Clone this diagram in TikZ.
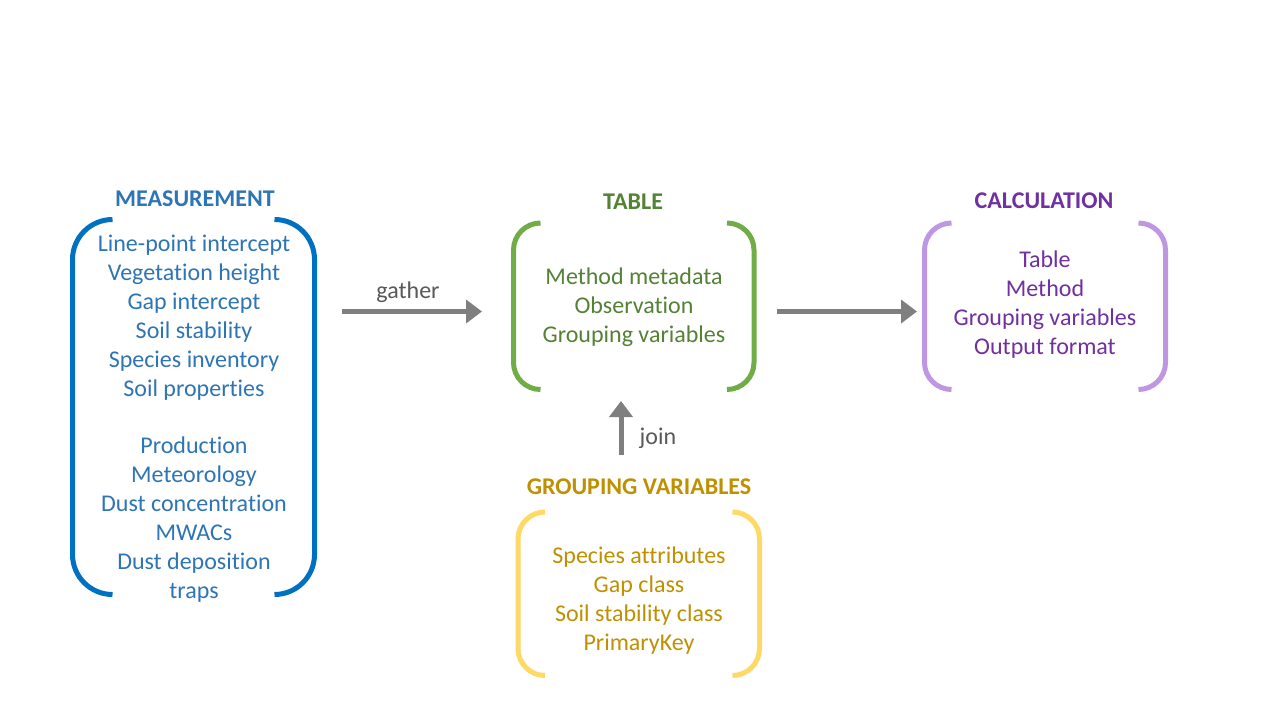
\documentclass[tikz,border=0pt]{standalone}
\usepackage{fontspec}
\setmainfont[Ligatures=NoCommon]{Carlito}
\usetikzlibrary{arrows.meta}
\definecolor{mbr}{HTML}{0070C0}
\definecolor{mtx}{HTML}{2E75B6}
\definecolor{tbr}{HTML}{70AD47}
\definecolor{ttx}{HTML}{548235}
\definecolor{cbr}{HTML}{BF96E2}
\definecolor{ctx}{HTML}{7030A0}
\definecolor{gbr}{HTML}{FFD966}
\definecolor{gtx}{HTML}{BF9000}
\definecolor{arr}{HTML}{7F7F7F}
\definecolor{lbl}{HTML}{595959}
\newcommand\dbracket[6]{%
  \draw[brk,#6,rounded corners=#5pt] (#1+#5,#2) -- (#1,#2) -- (#1,#4) -- (#1+#5,#4);
  \draw[brk,#6,rounded corners=#5pt] (#3-#5,#2) -- (#3,#2) -- (#3,#4) -- (#3-#5,#4);}
\begin{document}
\begin{tikzpicture}[x=1pt,y=-1pt,
  txt/.style={anchor=base,inner sep=0pt,font=\fontsize{24}{29}\selectfont},
  head/.style={anchor=base,inner sep=0pt,font=\fontsize{24}{29}\selectfont\bfseries},
  brk/.style={line width=5pt},
  arrowline/.style={draw=arr,line width=5pt,-{Triangle[length=16pt,width=23pt]}}]
\useasboundingbox[fill=white] (0,0) rectangle (1280,720);

% brackets
\dbracket{72.5}{219.5}{314.5}{594.5}{40}{mbr}
\dbracket{513.5}{223}{754}{389.5}{27}{tbr}
\dbracket{924.5}{223}{1165.5}{389.5}{27}{cbr}
\dbracket{518}{512}{759.5}{675.5}{27}{gbr}

% MEASUREMENT
\node[head,text=mtx] (mh) at (195,206) {MEASUREMENT};
\foreach \t [count=\i from 0] in {Line-point intercept,Vegetation height,Gap intercept,Soil stability,Species inventory,Soil properties}
  \node[txt,text=mtx] (ma\i) at (194,251+29*\i) {\t};
\foreach \t [count=\i from 0] in {Production,Meteorology,Dust concentration,MWACs,Dust deposition,traps}
  \node[txt,text=mtx] (mb\i) at (194,453.5+29*\i) {\t};

% TABLE
\node[head,text=ttx] (th) at (633,209) {TABLE};
\foreach \t [count=\i from 0] in {Method metadata,Observation,Grouping variables}
  \node[txt,text=ttx] (t\i) at (634,284+29*\i) {\t};

% CALCULATION
\node[head,text=ctx] (ch) at (1044,208.5) {CALCULATION};
\foreach \t [count=\i from 0] in {Table,Method,Grouping variables,Output format}
  \node[txt,text=ctx] (c\i) at (1045,267.5+29*\i) {\t};

% GROUPING VARIABLES
\node[head,text=gtx] (gh) at (639,494) {GROUPING VARIABLES};
\foreach \t [count=\i from 0] in {Species attributes,Gap class,Soil stability class,PrimaryKey}
  \node[txt,text=gtx] (g\i) at (639,563+29*\i) {\t};

% arrows
\coordinate (ga) at (342,311.5);
\coordinate (gb) at (482,311.5);
\draw[arrowline] (ga) -- (gb);
\node[txt,text=lbl] (gl) at (408,298) {gather};

\coordinate (ca) at (777,311.5);
\coordinate (cb) at (917,311.5);
\draw[arrowline] (ca) -- (cb);

\coordinate (ja) at (621,455);
\coordinate (jb) at (621,401);
\draw[arrowline] (ja) -- (jb);
\node[txt,text=lbl] (jl) at (658,444.3) {join};
\end{tikzpicture}
\end{document}
